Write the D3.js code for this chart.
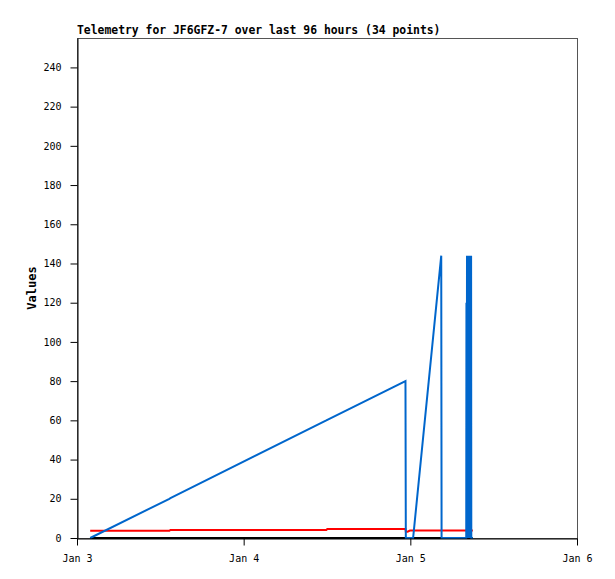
<!DOCTYPE html>
<html><head><meta charset="utf-8">
<script src="https://cdn.jsdelivr.net/npm/d3@7/dist/d3.min.js"></script>
<style>
html,body{margin:0;padding:0;background:#fff;}
svg{display:block;}
text{font-family:"DejaVu Sans Mono","Liberation Mono",monospace;}
</style></head>
<body>
<script>
// hours after Jan 3 00:00
const hours = [1.9, 13.3, 13.45, 35.9, 36.05, 47.3, 47.35, 47.6, 47.95, 48.4, 52.45, 52.5,
  56.05, 56.08, 56.12, 56.16, 56.20, 56.24, 56.28, 56.32, 56.36, 56.40, 56.44,
  56.48, 56.52, 56.56, 56.60, 56.63, 56.66, 56.69, 56.72, 56.75, 56.78, 57.0];
const blueValues = [0, 20.0, 20.3, 60.0, 60.3, 80, 0, 0, 0, 0, 144, 0,
  0, 120, 0, 144, 0, 144, 0, 144, 0, 144, 0,
  144, 0, 144, 0, 144, 0, 144, 0, 144, 0, 0];
const redValues = [3.7, 3.7, 4.1, 4.1, 4.6, 4.6, 3.3, 3.2, 3.8, 3.8, 3.8, 3.8,
  3.8, 3.8, 3.8, 3.8, 3.8, 3.8, 3.8, 3.8, 3.8, 3.8, 3.8,
  3.8, 3.8, 3.8, 3.8, 3.8, 3.8, 3.8, 3.8, 3.8, 3.8, 3.8];
const blackValues = [0, 0, 0, 0, 0, 0, 0, 0, 0, 0, 0, 0,
  0, 0, 0, 0, 0, 0, 0, 0, 0, 0, 0,
  0, 0, 0, 0, 0, 0, 0, 0, 0, 0, 0];
const yTicks = [0, 20, 40, 60, 80, 100, 120, 140, 160, 180, 200, 220, 240];
const xTickLabels = ["Jan 3", "Jan 4", "Jan 5", "Jan 6"];
const titleText = "Telemetry for JF6GFZ-7 over last 96 hours (34 points)";
const yLabel = "Values";

const W = 615, H = 579;
const m = {l: 77, r: 38, t: 38, b: 41};
const svg = d3.select("body").append("svg").attr("width", W).attr("height", H);

const t0 = new Date(2024, 0, 3);
const toDate = h => new Date(t0.getTime() + h * 3600e3);
const x = d3.scaleTime().domain([t0, new Date(2024, 0, 6)]).range([m.l, W - m.r]);
const y = d3.scaleLinear().domain([0, 255]).range([H - m.b, m.t]);

// frame
svg.append("rect").attr("x", m.l + 0.5).attr("y", m.t + 0.5)
  .attr("width", W - m.r - m.l).attr("height", H - m.b - m.t)
  .attr("fill", "none").attr("stroke", "#555").attr("stroke-width", 1);

const series = [
  {vals: blackValues, color: "#000000"},
  {vals: redValues, color: "#ff0000"},
  {vals: blueValues, color: "#0066cc"}
];
const line = d3.line().x(d => x(d[0])).y(d => y(d[1]));
series.forEach(s => {
  svg.append("path")
    .datum(hours.map((h, i) => [toDate(h), s.vals[i]]))
    .attr("fill", "none").attr("stroke", s.color).attr("stroke-width", 2)
    .attr("d", line);
});

// axes
const xAxis = d3.axisBottom(x)
  .tickValues([0, 1, 2, 3].map(d => new Date(2024, 0, 3 + d)))
  .tickFormat((d, i) => xTickLabels[i]).tickSize(7).tickSizeOuter(0).tickPadding(9);
const gx = svg.append("g").attr("transform", `translate(0,${H - m.b + 0.5})`).call(xAxis);
const yAxis = d3.axisLeft(y).tickValues(yTicks).tickSize(7).tickSizeOuter(0).tickPadding(9);
const gy = svg.append("g").attr("transform", `translate(${m.l + 0.5},0)`).call(yAxis);
[gx, gy].forEach(g => {
  g.selectAll("path.domain").attr("stroke", "#000");
  g.selectAll("line").attr("stroke", "#000");
  g.selectAll("text").attr("font-size", 10).attr("fill", "#000")
    .style("font-family", '"DejaVu Sans Mono", monospace');
});

svg.append("text").attr("x", m.l).attr("y", 34)
  .attr("font-size", 11.4).attr("font-weight", "bold").text(titleText);
svg.append("text").attr("transform", `translate(36,${(m.t + H - m.b) / 2}) rotate(-90)`)
  .attr("text-anchor", "middle").attr("font-size", 12).attr("font-weight", "bold").text(yLabel);
</script>
</body></html>
